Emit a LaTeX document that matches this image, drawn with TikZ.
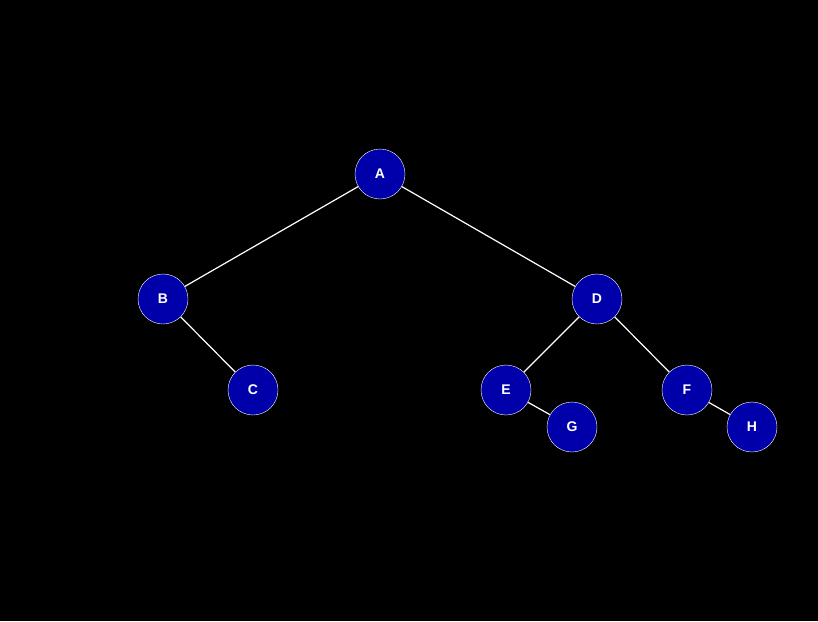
\documentclass[tikz,border=0pt]{standalone}
\usepackage{fontspec}
\setmainfont{Liberation Sans}
\usepackage{tikz}
\definecolor{nodeblue}{HTML}{0000AA}

\begin{document}
\begin{tikzpicture}[x=1pt,y=-1pt,
  vert/.style={circle,draw=white,fill=nodeblue,minimum size=50pt,inner sep=0pt,
    text=white,font=\fontsize{14}{16}\selectfont\bfseries},
  edge/.style={draw=white,line width=1.2pt}
]
\fill[black] (0,0) rectangle (818,621);
\useasboundingbox (0,0) rectangle (818,621);
\node[vert] (A) at (380,174) {A};
\node[vert] (B) at (163,299) {B};
\node[vert] (C) at (253,390) {C};
\node[vert] (D) at (597,299) {D};
\node[vert] (E) at (506,390) {E};
\node[vert] (F) at (687,390) {F};
\node[vert] (G) at (572,427) {G};
\node[vert] (H) at (752,427) {H};
\draw[edge] (A) -- (B);
\draw[edge] (A) -- (D);
\draw[edge] (B) -- (C);
\draw[edge] (D) -- (E);
\draw[edge] (D) -- (F);
\draw[edge] (E) -- (G);
\draw[edge] (F) -- (H);
\end{tikzpicture}
\end{document}
